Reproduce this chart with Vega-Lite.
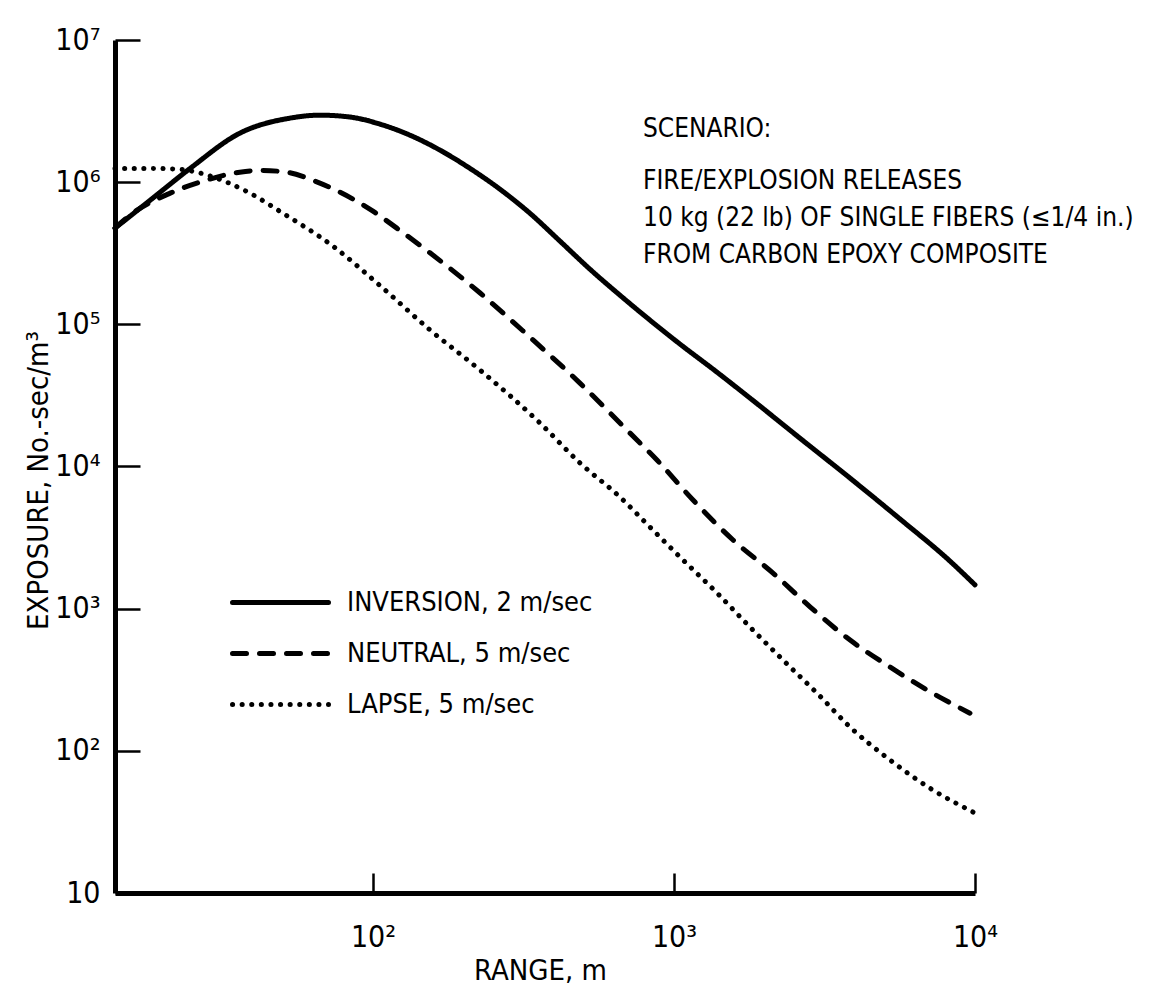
{
  "$schema": "https://vega.github.io/schema/vega-lite/v6.json",
  "width": 860,
  "height": 853,
  "autosize": {"type": "none"},
  "padding": {"left": 115, "top": 40, "right": 187, "bottom": 97},
  "background": "white",
  "config": {
    "view": {"stroke": null},
    "font": "Liberation Sans Narrow, DejaVu Sans Condensed, sans-serif",
    "axis": {
      "grid": false,
      "domainColor": "black",
      "domainWidth": 5,
      "tickColor": "black",
      "tickWidth": 2.5,
      "labelColor": "black",
      "titleColor": "black",
      "labelFont": "Liberation Sans Narrow, DejaVu Sans Condensed, sans-serif",
      "titleFont": "Liberation Sans Narrow, DejaVu Sans Condensed, sans-serif",
      "labelFontSize": 30,
      "titleFontSize": 29,
      "titleFontWeight": "normal",
      "labelFlush": false,
      "labelOverlap": false
    }
  },
  "datasets": {
    "curves": [
      {"series": "INVERSION, 2 m/sec", "range": 13.9, "exposure": 475000},
      {"series": "INVERSION, 2 m/sec", "range": 18.2, "exposure": 747000},
      {"series": "INVERSION, 2 m/sec", "range": 24.7, "exposure": 1250000},
      {"series": "INVERSION, 2 m/sec", "range": 36.1, "exposure": 2210000},
      {"series": "INVERSION, 2 m/sec", "range": 53.0, "exposure": 2820000},
      {"series": "INVERSION, 2 m/sec", "range": 66.7, "exposure": 2960000},
      {"series": "INVERSION, 2 m/sec", "range": 83.9, "exposure": 2870000},
      {"series": "INVERSION, 2 m/sec", "range": 105.5, "exposure": 2560000},
      {"series": "INVERSION, 2 m/sec", "range": 132.7, "exposure": 2140000},
      {"series": "INVERSION, 2 m/sec", "range": 167, "exposure": 1680000},
      {"series": "INVERSION, 2 m/sec", "range": 210, "exposure": 1250000},
      {"series": "INVERSION, 2 m/sec", "range": 264, "exposure": 893000},
      {"series": "INVERSION, 2 m/sec", "range": 332, "exposure": 605000},
      {"series": "INVERSION, 2 m/sec", "range": 418, "exposure": 385000},
      {"series": "INVERSION, 2 m/sec", "range": 526, "exposure": 244000},
      {"series": "INVERSION, 2 m/sec", "range": 662, "exposure": 160000},
      {"series": "INVERSION, 2 m/sec", "range": 832, "exposure": 107000},
      {"series": "INVERSION, 2 m/sec", "range": 1047, "exposure": 72600},
      {"series": "INVERSION, 2 m/sec", "range": 1348, "exposure": 48400},
      {"series": "INVERSION, 2 m/sec", "range": 1788, "exposure": 30300},
      {"series": "INVERSION, 2 m/sec", "range": 2622, "exposure": 15800},
      {"series": "INVERSION, 2 m/sec", "range": 3846, "exposure": 8280},
      {"series": "INVERSION, 2 m/sec", "range": 5636, "exposure": 4270},
      {"series": "INVERSION, 2 m/sec", "range": 8260, "exposure": 2160},
      {"series": "INVERSION, 2 m/sec", "range": 10000, "exposure": 1470},
      {"series": "NEUTRAL, 5 m/sec", "range": 13.9, "exposure": 475000},
      {"series": "NEUTRAL, 5 m/sec", "range": 15.6, "exposure": 586000},
      {"series": "NEUTRAL, 5 m/sec", "range": 21.2, "exposure": 837000},
      {"series": "NEUTRAL, 5 m/sec", "range": 26.6, "exposure": 1000000},
      {"series": "NEUTRAL, 5 m/sec", "range": 36.1, "exposure": 1175000},
      {"series": "NEUTRAL, 5 m/sec", "range": 42.2, "exposure": 1210000},
      {"series": "NEUTRAL, 5 m/sec", "range": 51.8, "exposure": 1175000},
      {"series": "NEUTRAL, 5 m/sec", "range": 63.2, "exposure": 1030000},
      {"series": "NEUTRAL, 5 m/sec", "range": 77.6, "exposure": 851000},
      {"series": "NEUTRAL, 5 m/sec", "range": 100, "exposure": 625000},
      {"series": "NEUTRAL, 5 m/sec", "range": 120, "exposure": 475000},
      {"series": "NEUTRAL, 5 m/sec", "range": 155, "exposure": 317000},
      {"series": "NEUTRAL, 5 m/sec", "range": 227, "exposure": 166000},
      {"series": "NEUTRAL, 5 m/sec", "range": 332, "exposure": 81300},
      {"series": "NEUTRAL, 5 m/sec", "range": 487, "exposure": 38600},
      {"series": "NEUTRAL, 5 m/sec", "range": 714, "exposure": 17200},
      {"series": "NEUTRAL, 5 m/sec", "range": 878, "exposure": 11100},
      {"series": "NEUTRAL, 5 m/sec", "range": 1157, "exposure": 5810},
      {"series": "NEUTRAL, 5 m/sec", "range": 1571, "exposure": 3040},
      {"series": "NEUTRAL, 5 m/sec", "range": 2133, "exposure": 1780},
      {"series": "NEUTRAL, 5 m/sec", "range": 2831, "exposure": 1030},
      {"series": "NEUTRAL, 5 m/sec", "range": 3846, "exposure": 601},
      {"series": "NEUTRAL, 5 m/sec", "range": 5224, "exposure": 388},
      {"series": "NEUTRAL, 5 m/sec", "range": 6929, "exposure": 268},
      {"series": "NEUTRAL, 5 m/sec", "range": 9620, "exposure": 184},
      {"series": "LAPSE, 5 m/sec", "range": 13.9, "exposure": 1250000},
      {"series": "LAPSE, 5 m/sec", "range": 18.2, "exposure": 1250000},
      {"series": "LAPSE, 5 m/sec", "range": 22.9, "exposure": 1230000},
      {"series": "LAPSE, 5 m/sec", "range": 26.6, "exposure": 1160000},
      {"series": "LAPSE, 5 m/sec", "range": 32.7, "exposure": 1000000},
      {"series": "LAPSE, 5 m/sec", "range": 39.0, "exposure": 837000},
      {"series": "LAPSE, 5 m/sec", "range": 50.2, "exposure": 605000},
      {"series": "LAPSE, 5 m/sec", "range": 73.6, "exposure": 355000},
      {"series": "LAPSE, 5 m/sec", "range": 105, "exposure": 189000},
      {"series": "LAPSE, 5 m/sec", "range": 155, "exposure": 91000},
      {"series": "LAPSE, 5 m/sec", "range": 227, "exposure": 47600},
      {"series": "LAPSE, 5 m/sec", "range": 359, "exposure": 20200},
      {"series": "LAPSE, 5 m/sec", "range": 487, "exposure": 10600},
      {"series": "LAPSE, 5 m/sec", "range": 662, "exposure": 6090},
      {"series": "LAPSE, 5 m/sec", "range": 832, "exposure": 3750},
      {"series": "LAPSE, 5 m/sec", "range": 1072, "exposure": 2200},
      {"series": "LAPSE, 5 m/sec", "range": 1390, "exposure": 1290},
      {"series": "LAPSE, 5 m/sec", "range": 1788, "exposure": 743},
      {"series": "LAPSE, 5 m/sec", "range": 2303, "exposure": 435},
      {"series": "LAPSE, 5 m/sec", "range": 2985, "exposure": 255},
      {"series": "LAPSE, 5 m/sec", "range": 3846, "exposure": 147},
      {"series": "LAPSE, 5 m/sec", "range": 5224, "exposure": 86.1},
      {"series": "LAPSE, 5 m/sec", "range": 7250, "exposure": 53.0},
      {"series": "LAPSE, 5 m/sec", "range": 10000, "exposure": 36.5}
    ],
    "heading": [{"note": "SCENARIO:", "range": 789, "exposure": 2360000}],
    "scenario": [{"note": "FIRE/EXPLOSION RELEASES|10 kg (22 lb) OF SINGLE FIBERS (≤1/4 in.)|FROM CARBON EPOXY COMPOSITE", "range": 789, "exposure": 1016000}]
  },
  "encoding": {
    "x": {
      "field": "range", "type": "quantitative",
      "scale": {"type": "log", "domain": [13.9, 10000], "nice": false},
      "axis": {
        "values": [100, 1000, 10000],
        "labelExpr": "datum.value < 500 ? '10²' : datum.value < 5000 ? '10³' : '10⁴'",
        "tickSize": -20,
        "labelPadding": 49,
        "labelAlign": "center",
        "labelBaseline": "top",
        "title": "RANGE,  m",
        "titleX": 425,
        "titleY": 77,
        "titleBaseline": "middle"
      }
    },
    "y": {
      "field": "exposure", "type": "quantitative",
      "scale": {"type": "log", "domain": [10, 10000000], "nice": false},
      "axis": {
        "values": [10, 100, 1000, 10000, 100000, 1000000, 10000000],
        "labelExpr": "datum.value < 50 ? '10' : datum.value < 500 ? '10²' : datum.value < 5000 ? '10³' : datum.value < 50000 ? '10⁴' : datum.value < 500000 ? '10⁵' : datum.value < 5000000 ? '10⁶' : '10⁷'",
        "tickSize": -25,
        "labelPadding": 40,
        "labelAlign": "right",
        "labelBaseline": "middle",
        "title": "EXPOSURE,  No.-sec/m³",
        "titleX": -68,
        "titleY": 440,
        "titleAngle": -90,
        "titleAlign": "center",
        "titleBaseline": "alphabetic"
      }
    }
  },
  "layer": [
    {
      "data": {"name": "curves"},
      "mark": {"type": "line", "color": "black", "strokeWidth": 5, "strokeCap": "round", "strokeJoin": "round", "interpolate": "monotone"},
      "encoding": {
        "strokeDash": {
          "field": "series", "type": "nominal",
          "scale": {
            "domain": ["INVERSION, 2 m/sec", "NEUTRAL, 5 m/sec", "LAPSE, 5 m/sec"],
            "range": [[1, 0], [14, 13], [0.1, 9.5]]
          },
          "legend": {
            "orient": "none",
            "legendX": 151,
            "legendY": 548,
            "title": null,
            "padding": 0,
            "symbolType": "M-4,0L4,0",
            "symbolSize": 576,
            "symbolStrokeWidth": 5,
            "symbolStrokeColor": "black",
            "symbolFillColor": "transparent",
            "labelFontSize": 27,
            "labelColor": "black",
            "labelFont": "Liberation Sans Narrow, DejaVu Sans Condensed, sans-serif",
            "labelOffset": 52,
            "labelLimit": 400,
            "rowPadding": 23,
            "encode": {"symbols": {"update": {"strokeCap": {"value": "round"}}}}
          }
        }
      }
    },
    {
      "data": {"name": "heading"},
      "mark": {"type": "text", "align": "left", "baseline": "middle", "fontSize": 26, "color": "black"},
      "encoding": {
        "text": {"field": "note"}
      }
    },
    {
      "data": {"name": "scenario"},
      "mark": {"type": "text", "align": "left", "baseline": "middle", "fontSize": 26, "lineHeight": 37, "lineBreak": "|", "color": "black"},
      "encoding": {
        "text": {"field": "note"}
      }
    }
  ]
}
